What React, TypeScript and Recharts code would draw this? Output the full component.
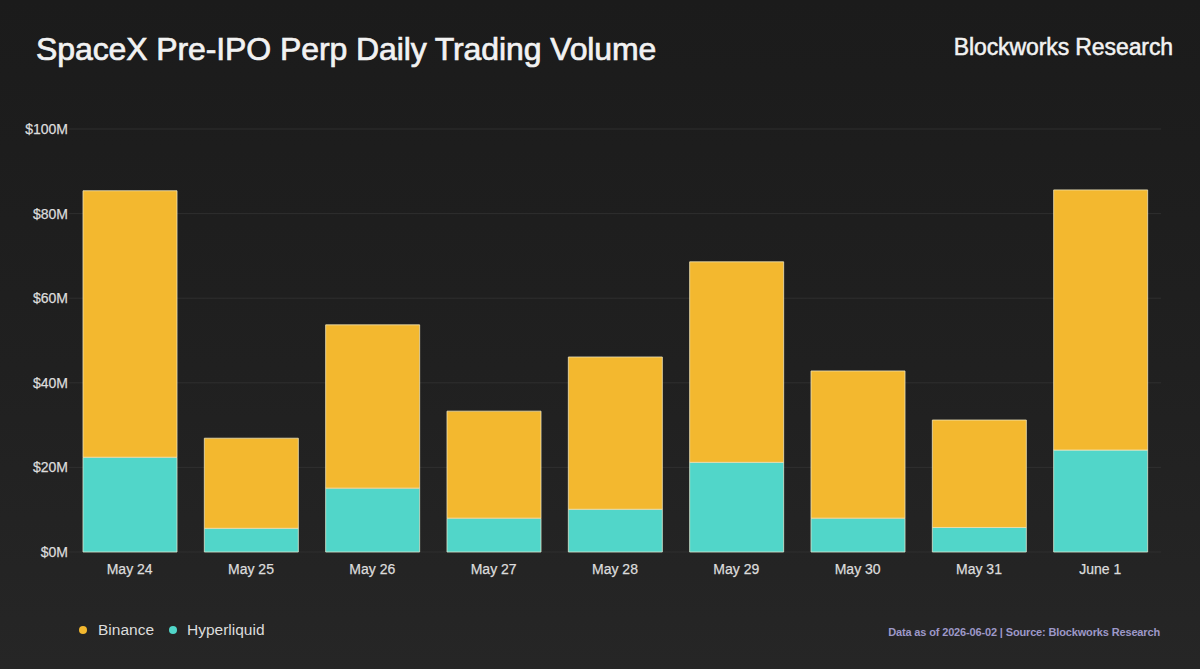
import React from "react";
import { BarChart, Bar, XAxis, YAxis, CartesianGrid } from "recharts";

const categories = ["May 24", "May 25", "May 26", "May 27", "May 28", "May 29", "May 30", "May 31", "June 1"];
const hyperliquid = [22.4, 5.6, 15.1, 8.0, 10.1, 21.2, 8.0, 5.8, 24.1];
const binance = [63.0, 21.3, 38.6, 25.3, 36.0, 47.4, 34.8, 25.4, 61.5];
const yTicks = [0, 20, 40, 60, 80, 100];

const BINANCE_COLOR = "#F3B82F";
const HL_COLOR = "#51D6C9";

const data = categories.map((c, i) => ({ day: c, hyperliquid: hyperliquid[i], binance: binance[i] }));

const FONT = "'Liberation Sans', Arial, Helvetica, sans-serif";

export default function App() {
  return (
    <div
      style={{
        position: "fixed",
        left: 0,
        top: 0,
        width: 1200,
        height: 669,
        background: "linear-gradient(180deg, #1b1b1b 0%, #202020 55%, #262626 100%)",
        fontFamily: FONT,
        overflow: "hidden",
      }}
    >
      <div
        style={{
          position: "absolute",
          left: 36,
          top: 31,
          fontSize: 32,
          color: "#f2f2f2",
          letterSpacing: -0.1,
          WebkitTextStroke: "0.7px #f2f2f2",
          whiteSpace: "nowrap",
        }}
      >
        SpaceX Pre-IPO Perp Daily Trading Volume
      </div>
      <div
        style={{
          position: "absolute",
          right: 27,
          top: 34,
          fontSize: 23,
          color: "#f2f2f2",
          letterSpacing: -0.1,
          WebkitTextStroke: "0.5px #f2f2f2",
          whiteSpace: "nowrap",
        }}
      >
        Blockworks Research
      </div>
      <div style={{ position: "absolute", left: 0, top: 0 }}>
        <BarChart
          width={1200}
          height={669}
          data={data}
          margin={{ top: 129, right: 39, bottom: 87, left: 0 }}
          barSize={94}
        >
          <CartesianGrid vertical={false} stroke="#2f2f2f" strokeWidth={1} />
          <XAxis
            dataKey="day"
            axisLine={false}
            tickLine={false}
            height={30}
            tickMargin={6}
            tick={{ fill: "#dcdcdc", fontSize: 14, fontFamily: FONT, stroke: "#dcdcdc", strokeWidth: 0.25 }}
          />
          <YAxis
            width={69}
            domain={[0, 100]}
            ticks={yTicks}
            axisLine={false}
            tickLine={false}
            tickSize={0}
            tickMargin={1}
            tickFormatter={(v: number) => `$${v}M`}
            tick={{ fill: "#dcdcdc", fontSize: 14, fontFamily: FONT, stroke: "#dcdcdc", strokeWidth: 0.25 }}
          />
          <Bar dataKey="hyperliquid" stackId="a" fill={HL_COLOR} stroke="#d9e8d0" strokeWidth={0.8} isAnimationActive={false} />
          <Bar dataKey="binance" stackId="a" fill={BINANCE_COLOR} stroke="#efe3b8" strokeWidth={0.8} isAnimationActive={false} />
        </BarChart>
      </div>
      <div
        style={{
          position: "absolute",
          left: 79,
          top: 621,
          display: "flex",
          alignItems: "center",
          fontSize: 15.5,
          color: "#dcdcdc",
        }}
      >
        <span style={{ width: 8, height: 8, borderRadius: 4, background: BINANCE_COLOR, display: "inline-block", marginRight: 11 }} />
        <span style={{ marginRight: 15 }}>Binance</span>
        <span style={{ width: 8, height: 8, borderRadius: 4, background: HL_COLOR, display: "inline-block", marginRight: 10 }} />
        <span>Hyperliquid</span>
      </div>
      <div
        style={{
          position: "absolute",
          right: 40,
          top: 626,
          fontSize: 11,
          fontWeight: "bold",
          color: "#9d98c8",
          letterSpacing: -0.15,
          whiteSpace: "nowrap",
        }}
      >
        Data as of 2026-06-02 | Source: Blockworks Research
      </div>
    </div>
  );
}
